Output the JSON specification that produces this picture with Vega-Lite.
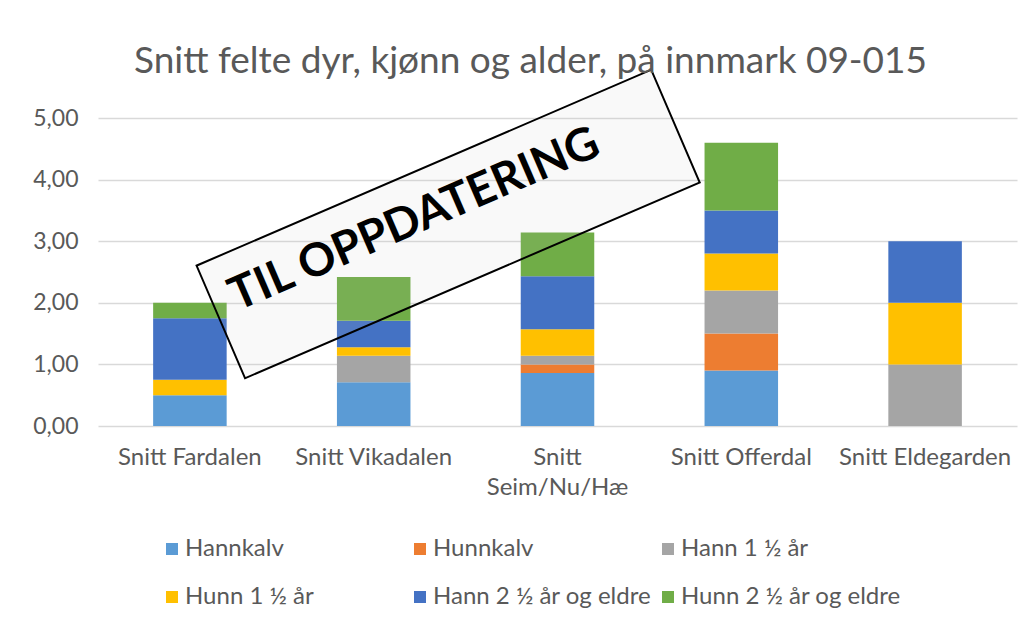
{
  "$schema": "https://vega.github.io/schema/vega-lite/v6.json",
  "width": 919,
  "height": 308,
  "autosize": {"type": "none"},
  "padding": {"left": 98, "top": 118, "right": 16, "bottom": 199},
  "background": "white",
  "config": {
    "locale": {"number": {"decimal": ",", "thousands": " ", "grouping": [3], "currency": ["", " kr"]}},
    "view": {"stroke": null},
    "font": "Lato"
  },
  "title": {
    "text": "Snitt felte dyr, kjønn og alder, på innmark 09-015",
    "font": "Lato",
    "fontSize": 37,
    "fontWeight": "normal",
    "color": "#595959",
    "anchor": "middle",
    "frame": "group",
    "baseline": "alphabetic",
    "offset": -44,
    "dx": -27
  },
  "layer": [
    {
      "data": {
        "values": [
          {"omrade": "Snitt Fardalen", "kategori": "Hannkalv", "rekkefolge": 1, "verdi": 0.5},
          {"omrade": "Snitt Fardalen", "kategori": "Hunnkalv", "rekkefolge": 2, "verdi": 0},
          {"omrade": "Snitt Fardalen", "kategori": "Hann 1 ½ år", "rekkefolge": 3, "verdi": 0},
          {"omrade": "Snitt Fardalen", "kategori": "Hunn 1 ½ år", "rekkefolge": 4, "verdi": 0.25},
          {"omrade": "Snitt Fardalen", "kategori": "Hann 2 ½ år og eldre", "rekkefolge": 5, "verdi": 1.0},
          {"omrade": "Snitt Fardalen", "kategori": "Hunn 2 ½ år og eldre", "rekkefolge": 6, "verdi": 0.25},
          {"omrade": "Snitt Vikadalen", "kategori": "Hannkalv", "rekkefolge": 1, "verdi": 0.71},
          {"omrade": "Snitt Vikadalen", "kategori": "Hunnkalv", "rekkefolge": 2, "verdi": 0},
          {"omrade": "Snitt Vikadalen", "kategori": "Hann 1 ½ år", "rekkefolge": 3, "verdi": 0.43},
          {"omrade": "Snitt Vikadalen", "kategori": "Hunn 1 ½ år", "rekkefolge": 4, "verdi": 0.14},
          {"omrade": "Snitt Vikadalen", "kategori": "Hann 2 ½ år og eldre", "rekkefolge": 5, "verdi": 0.43},
          {"omrade": "Snitt Vikadalen", "kategori": "Hunn 2 ½ år og eldre", "rekkefolge": 6, "verdi": 0.71},
          {"omrade": "Snitt Seim/Nu/Hæ", "kategori": "Hannkalv", "rekkefolge": 1, "verdi": 0.86},
          {"omrade": "Snitt Seim/Nu/Hæ", "kategori": "Hunnkalv", "rekkefolge": 2, "verdi": 0.14},
          {"omrade": "Snitt Seim/Nu/Hæ", "kategori": "Hann 1 ½ år", "rekkefolge": 3, "verdi": 0.14},
          {"omrade": "Snitt Seim/Nu/Hæ", "kategori": "Hunn 1 ½ år", "rekkefolge": 4, "verdi": 0.43},
          {"omrade": "Snitt Seim/Nu/Hæ", "kategori": "Hann 2 ½ år og eldre", "rekkefolge": 5, "verdi": 0.86},
          {"omrade": "Snitt Seim/Nu/Hæ", "kategori": "Hunn 2 ½ år og eldre", "rekkefolge": 6, "verdi": 0.71},
          {"omrade": "Snitt Offerdal", "kategori": "Hannkalv", "rekkefolge": 1, "verdi": 0.9},
          {"omrade": "Snitt Offerdal", "kategori": "Hunnkalv", "rekkefolge": 2, "verdi": 0.6},
          {"omrade": "Snitt Offerdal", "kategori": "Hann 1 ½ år", "rekkefolge": 3, "verdi": 0.7},
          {"omrade": "Snitt Offerdal", "kategori": "Hunn 1 ½ år", "rekkefolge": 4, "verdi": 0.6},
          {"omrade": "Snitt Offerdal", "kategori": "Hann 2 ½ år og eldre", "rekkefolge": 5, "verdi": 0.7},
          {"omrade": "Snitt Offerdal", "kategori": "Hunn 2 ½ år og eldre", "rekkefolge": 6, "verdi": 1.1},
          {"omrade": "Snitt Eldegarden", "kategori": "Hannkalv", "rekkefolge": 1, "verdi": 0},
          {"omrade": "Snitt Eldegarden", "kategori": "Hunnkalv", "rekkefolge": 2, "verdi": 0},
          {"omrade": "Snitt Eldegarden", "kategori": "Hann 1 ½ år", "rekkefolge": 3, "verdi": 1.0},
          {"omrade": "Snitt Eldegarden", "kategori": "Hunn 1 ½ år", "rekkefolge": 4, "verdi": 1.0},
          {"omrade": "Snitt Eldegarden", "kategori": "Hann 2 ½ år og eldre", "rekkefolge": 5, "verdi": 1.0},
          {"omrade": "Snitt Eldegarden", "kategori": "Hunn 2 ½ år og eldre", "rekkefolge": 6, "verdi": 0}
        ]
      },
      "mark": {"type": "bar"},
      "encoding": {
        "x": {
          "field": "omrade",
          "type": "nominal",
          "sort": ["Snitt Fardalen", "Snitt Vikadalen", "Snitt Seim/Nu/Hæ", "Snitt Offerdal", "Snitt Eldegarden"],
          "scale": {"paddingInner": 0.6, "paddingOuter": 0.3},
          "axis": {
            "title": null,
            "labelAngle": 0,
            "labelFont": "Lato",
            "labelFontSize": 24,
            "labelColor": "#595959",
            "ticks": false,
            "domain": false,
            "labelPadding": 19,
            "labelLineHeight": 30,
            "labelLimit": 0,
            "labelExpr": "datum.label == 'Snitt Seim/Nu/Hæ' ? ['Snitt', 'Seim/Nu/Hæ'] : datum.label"
          }
        },
        "y": {
          "field": "verdi",
          "type": "quantitative",
          "stack": "zero",
          "scale": {"domain": [0, 5]},
          "axis": {
            "title": null,
            "values": [0, 1, 2, 3, 4, 5],
            "format": ".2f",
            "labelFont": "Lato",
            "labelFontSize": 23,
            "labelColor": "#595959",
            "domain": false,
            "ticks": false,
            "gridColor": "#d9d9d9",
            "gridWidth": 1.5,
            "labelPadding": 20
          }
        },
        "color": {
          "field": "kategori",
          "type": "nominal",
          "scale": {
            "domain": ["Hannkalv", "Hunnkalv", "Hann 1 ½ år", "Hunn 1 ½ år", "Hann 2 ½ år og eldre", "Hunn 2 ½ år og eldre"],
            "range": ["#5B9BD5", "#ED7D31", "#A5A5A5", "#FFC000", "#4472C4", "#70AD47"]
          },
          "legend": {
            "orient": "none",
            "legendX": 62,
            "legendY": 419,
            "direction": "horizontal",
            "columns": 3,
            "gridAlign": "all",
            "title": null,
            "symbolType": "square",
            "symbolSize": 144,
            "symbolStrokeWidth": 0,
            "labelFont": "Lato",
            "labelFontSize": 24,
            "labelColor": "#595959",
            "labelOffset": 1,
            "labelLimit": 0,
            "columnPadding": 3,
            "rowPadding": 24
          }
        },
        "order": {"field": "rekkefolge", "type": "quantitative"}
      }
    },
    {
      "data": {"values": [{"etikett": "TIL OPPDATERING"}]},
      "mark": {
        "type": "point",
        "shape": "M-1,-0.2477L1,-0.2477L1,0.2477L-1,0.2477Z",
        "size": 245025,
        "angle": -23.3,
        "filled": true,
        "fill": "#c8c8c8",
        "fillOpacity": 0.1,
        "stroke": "black",
        "strokeWidth": 2,
        "strokeOpacity": 1,
        "opacity": 1
      },
      "encoding": {
        "x": {"datum": 0.381, "type": "quantitative", "scale": {"domain": [0, 1]}, "axis": null},
        "y": {"datum": 3.279, "type": "quantitative", "scale": {"domain": [0, 5]}, "axis": null}
      }
    },
    {
      "data": {"values": [{"etikett": "TIL OPPDATERING"}]},
      "mark": {
        "type": "text",
        "angle": -23.3,
        "font": "Lato",
        "fontSize": 46,
        "fontWeight": "bold",
        "color": "black",
        "align": "center",
        "baseline": "middle"
      },
      "encoding": {
        "x": {"datum": 0.3444, "type": "quantitative", "scale": {"domain": [0, 1]}, "axis": null},
        "y": {"datum": 3.347, "type": "quantitative", "scale": {"domain": [0, 5]}, "axis": null},
        "text": {"field": "etikett", "type": "nominal"}
      }
    }
  ],
  "resolve": {"scale": {"x": "independent", "y": "independent"}}
}
